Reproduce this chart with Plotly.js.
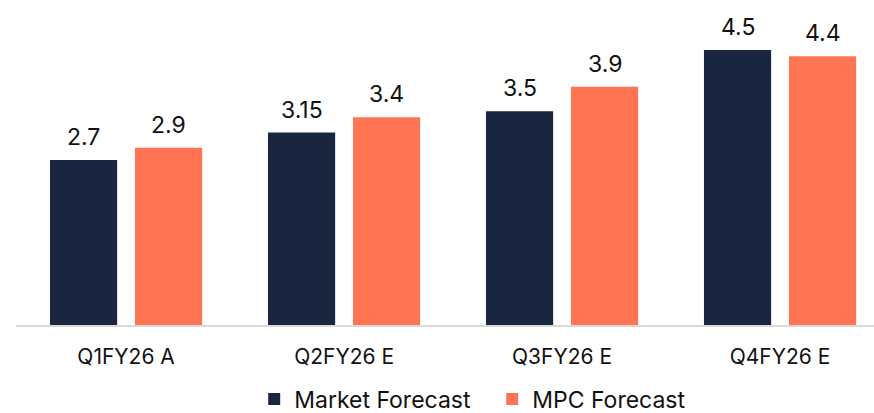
<!DOCTYPE html>
<html>
<head>
<meta charset="utf-8">
<script src="https://cdn.plot.ly/plotly-3.0.1.min.js"></script>
<style>html,body{margin:0;padding:0;background:#fff;}#chart{width:874px;height:413px;}</style>
</head>
<body>
<div id="chart"></div>
<script>
const categories = ["Q1FY26 A", "Q2FY26 E", "Q3FY26 E", "Q4FY26 E"];
const marketForecast = [2.7, 3.15, 3.5, 4.5];
const mpcForecast = [2.9, 3.4, 3.9, 4.4];
const seriesNames = ["Market Forecast", "MPC Forecast"];
const colors = ["#1a2640", "#ff7452"];

const FONT = "Inter, 'Liberation Sans', Arial, sans-serif";

const traces = [marketForecast, mpcForecast].map((vals, i) => ({
  type: "bar",
  name: seriesNames[i],
  x: categories,
  y: vals,
  marker: {color: colors[i], line: {width: 0}},
  hoverinfo: "none"
}));

const bargap = 0.22;
const bargroupgap = 0.21;
const slotFrac = (1 - bargap) / 2;
const annotations = [];
[marketForecast, mpcForecast].forEach((vals, i) => {
  vals.forEach((v, j) => {
    annotations.push({
      x: j + (i === 0 ? -slotFrac / 2 : slotFrac / 2),
      y: v,
      xref: "x", yref: "y",
      text: String(v),
      showarrow: false,
      yanchor: "bottom",
      yshift: 7,
      font: {family: FONT, size: 23, color: "#111"}
    });
  });
});

const layout = {
  width: 874, height: 413,
  margin: {l: 16, r: 0, t: 0, b: 88},
  paper_bgcolor: "#fff", plot_bgcolor: "#fff",
  barmode: "group",
  bargap: bargap,
  bargroupgap: bargroupgap,
  showlegend: true,
  legend: {
    orientation: "h", x: 0.555, xanchor: "center",
    yref: "container", y: 0.034, yanchor: "middle",
    font: {family: FONT, size: 23, color: "#111"},
    itemwidth: 30, traceorder: "normal",
    entrywidth: 193
  },
  xaxis: {
    type: "category",
    range: [-0.505, 3.431],
    showline: true, linecolor: "#d9d9d9", linewidth: 2,
    ticks: "", showgrid: false, zeroline: false,
    ticklabelstandoff: 12,
    tickfont: {family: FONT, size: 21, color: "#111"},
    automargin: false,
    fixedrange: true
  },
  yaxis: {
    range: [0, 5.32],
    visible: false, showgrid: false, zeroline: false, fixedrange: true
  },
  annotations: annotations
};

Plotly.newPlot("chart", traces, layout, {displayModeBar: false, staticPlot: true});
</script>
</body>
</html>
